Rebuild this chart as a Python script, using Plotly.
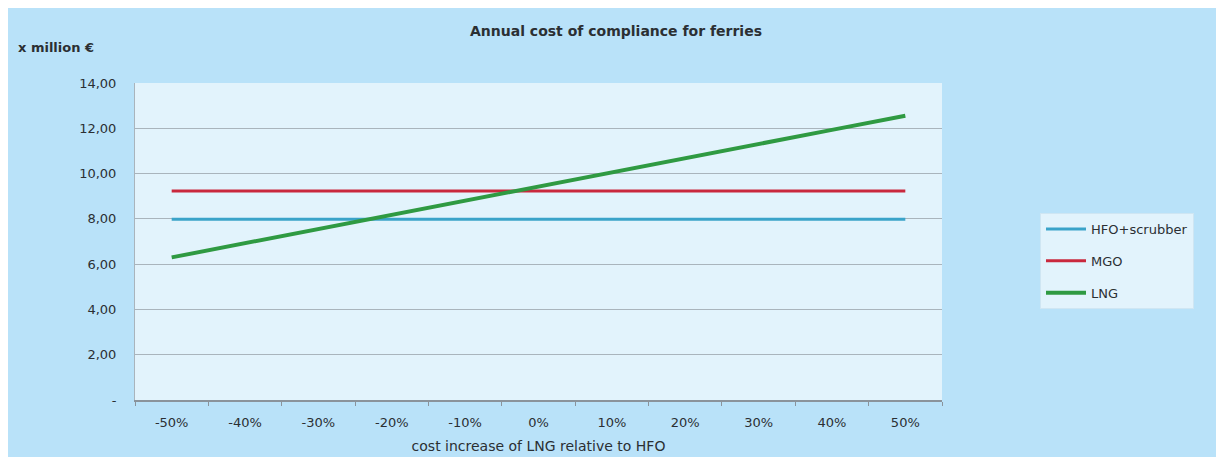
import plotly.graph_objects as go

categories = ["-50%", "-40%", "-30%", "-20%", "-10%", "0%", "10%", "20%", "30%", "40%", "50%"]
hfo_scrubber = [7.98] * 11
mgo = [9.23] * 11
lng = [6.30, 6.93, 7.55, 8.18, 8.80, 9.43, 10.05, 10.68, 11.30, 11.93, 12.55]
y_tickvals = [0, 2, 4, 6, 8, 10, 12, 14]
y_ticktext = ["-", "2,00", "4,00", "6,00", "8,00", "10,00", "12,00", "14,00"]

# page has an 8px body margin, so the figure is offset by 8px
OFF = 8
W, H = 1221 - OFF, 457 - OFF
L, R, T, B = 135 - OFF, 942 - OFF, 83 - OFF, 400 - OFF

def px_x(p):
    return (p - OFF - L) / (R - L)

def px_y(p):
    return (B - (p - OFF)) / (B - T)

font_fam = "DejaVu Sans, Verdana, sans-serif"
txt_col = "#2b2f33"
fig = go.Figure()
series = [("HFO+scrubber", hfo_scrubber, "#3aa3c9", 3),
          ("MGO", mgo, "#c9283d", 3),
          ("LNG", lng, "#2f9a42", 4)]
for i, (name, vals, col, w) in enumerate(series):
    fig.add_trace(go.Scatter(x=categories, y=vals, mode="lines", name=name,
                             line=dict(color=col, width=w),
                             legendgroup=f"g{i}"))

fig.update_layout(
    width=W, height=H,
    margin=dict(l=L, r=W - R, t=T, b=H - B),
    paper_bgcolor="#b9e2f9",
    plot_bgcolor="#e2f3fc",
    font=dict(family=font_fam, size=13, color=txt_col),
    title=dict(text="<b>Annual cost of compliance for ferries</b>", x=(616 - OFF) / W, xanchor="center",
               y=1 - (31 - OFF) / H, yanchor="middle", font=dict(size=14, color=txt_col)),
    showlegend=True,
    legend=dict(x=px_x(1040), y=px_y(213), xanchor="left", yanchor="top",
                bgcolor="#e2f3fc", bordercolor="#cfe6f3", borderwidth=1,
                tracegroupgap=12, itemwidth=40,
                font=dict(size=13, color=txt_col)),
    xaxis=dict(type="category", range=[-0.5, 10.5], showgrid=False, automargin=False,
               showline=True, linecolor="#8a939b", linewidth=1.5,
               ticks="outside", tickson="boundaries", ticklen=4, tickcolor="#8a939b",
               ticklabelstandoff=10,
               tickfont=dict(size=13, color=txt_col),
               title=dict(text="cost increase of LNG relative to HFO", standoff=12,
                          font=dict(size=14, color=txt_col))),
    yaxis=dict(range=[0, 14], tickvals=y_tickvals, ticktext=y_ticktext, automargin=False,
               showgrid=True, gridcolor="#a9b4bc", gridwidth=1,
               showline=True, linecolor="#a9b4bc", linewidth=1,
               ticks="", ticklabelstandoff=15, zeroline=False,
               tickfont=dict(size=13, color=txt_col)),
)
fig.add_annotation(text="<b>x million €</b>", xref="paper", yref="paper",
                   x=px_x(16), y=px_y(47), xanchor="left", yanchor="middle",
                   showarrow=False, font=dict(size=13, color=txt_col))

fig.write_html("out.html")
